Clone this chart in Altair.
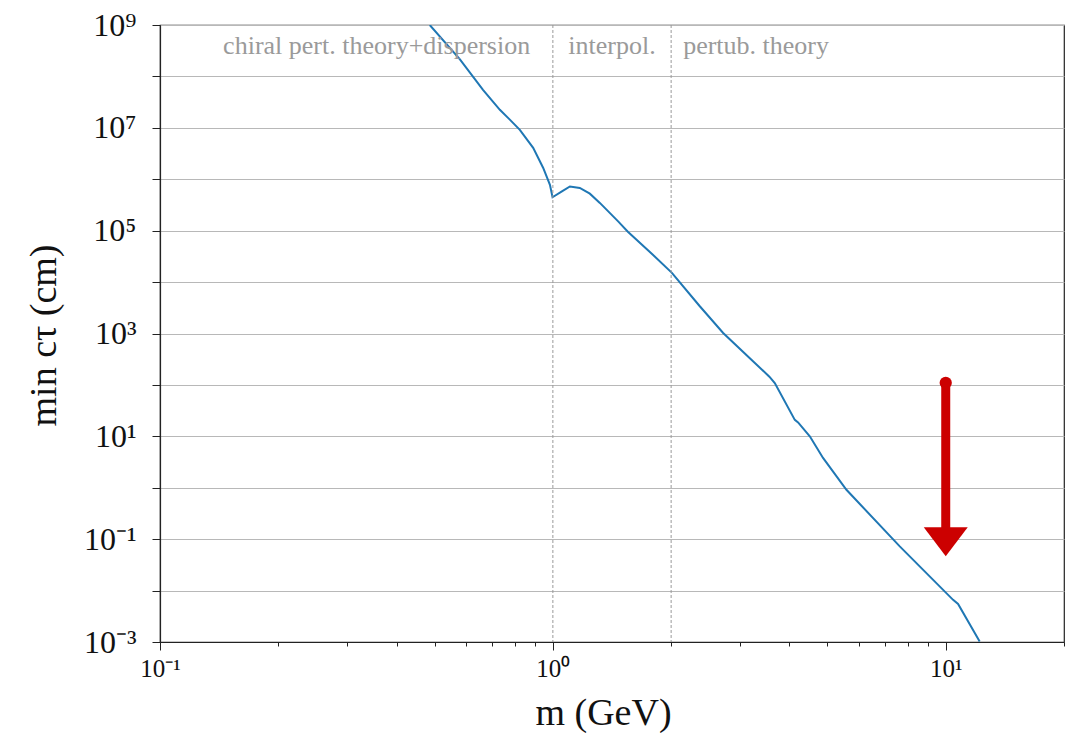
import altair as alt
import pandas as pd

# Minimum proper decay length versus mass
mass_gev = [0.486, 0.580, 0.664, 0.733, 0.777, 0.824, 0.891, 0.945, 0.983, 0.998,
            1.052, 1.105, 1.171, 1.242, 1.317, 1.466, 1.552, 1.797, 2.009,
            2.366, 2.713, 3.172, 3.557, 3.672, 4.129, 4.209, 4.508, 4.872,
            5.588, 7.638, 10.44, 10.75, 12.2]
log10_ctau = [9.00, 8.33, 7.74, 7.35, 7.16, 6.96, 6.61, 6.22, 5.89, 5.65,
              5.76, 5.86, 5.83, 5.72, 5.54, 5.18, 4.98, 4.53, 4.18,
              3.53, 3.01, 2.52, 2.16, 2.035, 1.32, 1.27, 1.00, 0.58,
              -0.04, -1.14, -2.18, -2.26, -2.99]
ctau_cm = [10 ** v for v in log10_ctau]

# Boundaries between the calculation regimes
regime_edges = [1.0, 2.0]
regime_names = ["chiral pert. theory+dispersion", "interpol.", "pertub. theory"]
regime_label_m = [0.356, 1.414, 3.29]
regime_label_ctau = [10 ** 8.6] * 3

# Downward arrow near m = 10 GeV
arrow_m = [10.0]
arrow_top = [110.0]
arrow_base = [0.17]
arrow_head = [0.089]

# Axis ticks
x_ticks = [0.1, 0.2, 0.3, 0.4, 0.5, 0.6, 0.7, 0.8, 0.9,
           1, 2, 3, 4, 5, 6, 7, 8, 9, 10, 20]
x_tick_labels = {-1: "10⁻¹", 0: "10⁰", 1: "10¹"}
y_ticks = [10.0 ** e for e in range(-3, 10)]
y_tick_labels = {-3: "10⁻³", -1: "10⁻¹", 1: "10¹", 3: "10³",
                 5: "10⁵", 7: "10⁷", 9: "10⁹"}

SERIF = "Liberation Serif"
LOG = "(log(datum.value) / LN10)"
EXP = f"round{LOG}"
IS_DECADE = f"abs({LOG} - {EXP}) < 1e-6"


def label_expr(labels):
    expr = "''"
    for e, text in sorted(labels.items(), reverse=True):
        expr = f"({EXP} == {e} ? '{text}' : {expr})"
    return f"({IS_DECADE}) ? {expr} : ''"


curve = pd.DataFrame({"m": mass_gev, "ctau": ctau_cm})
edges = pd.DataFrame({"m": regime_edges})
labels = pd.DataFrame({"m": regime_label_m, "ctau": regime_label_ctau,
                       "name": regime_names})
arrow = pd.DataFrame({"m": arrow_m, "top": arrow_top, "base": arrow_base,
                      "head": arrow_head})

x_scale = alt.Scale(type="log", domain=[0.1, 20], nice=False)
y_scale = alt.Scale(type="log", domain=[1e-3, 1e9], nice=False)

x_axis = alt.Axis(
    values=x_ticks,
    labelExpr=label_expr(x_tick_labels),
    tickSize={"condition": {"test": IS_DECADE, "value": 8}, "value": 4},
    grid=False,
    title="m (GeV)",
    titleFont=SERIF, titleFontSize=38, titleFontWeight="normal",
    titleColor="#111", titleY=71, titleBaseline="middle", titleX=443,
    labelFont=SERIF, labelFontSize=25, labelColor="#111", labelPadding=6,
    labelFlush=False, labelOverlap=False,
    domainColor="#222", tickColor="#222", domainWidth=1.2, tickWidth=1,
)
y_axis = alt.Axis(
    values=y_ticks,
    labelExpr=label_expr(y_tick_labels),
    tickSize=8,
    grid=True, gridColor="#b8b8b8", gridWidth=1,
    title="min cτ (cm)",
    titleFont=SERIF, titleFontSize=38, titleFontWeight="normal",
    titleColor="#111", titleX=-116, titleY=310, titleAlign="center",
    titleBaseline="middle", titleAngle=-90,
    labelFont=SERIF, labelFontSize=32, labelColor="#111", labelPadding=16,
    labelFlush=False, labelOverlap=False, labelBaseline="middle",
    domainColor="#222", tickColor="#222", domainWidth=1.2, tickWidth=1,
)

line = alt.Chart(curve).mark_line(color="#1f77b4", strokeWidth=2, clip=True).encode(
    x=alt.X("m:Q", scale=x_scale, axis=x_axis),
    y=alt.Y("ctau:Q", scale=y_scale, axis=y_axis),
)

dividers = alt.Chart(edges).mark_rule(color="#999999", strokeWidth=1,
                                      strokeDash=[3, 2]).encode(
    x=alt.X("m:Q", scale=x_scale),
)

regime_text = alt.Chart(labels).mark_text(
    font=SERIF, fontSize=26, color="#9a9a9a", align="center", baseline="middle"
).encode(
    x=alt.X("m:Q", scale=x_scale),
    y=alt.Y("ctau:Q", scale=y_scale),
    text="name:N",
)

shaft = alt.Chart(arrow).mark_rule(color="#cc0000", strokeWidth=9,
                                   strokeCap="round").encode(
    x=alt.X("m:Q", scale=x_scale),
    y=alt.Y("top:Q", scale=y_scale),
    y2="base:Q",
)
knob = alt.Chart(arrow).mark_circle(color="#cc0000", size=150, opacity=1).encode(
    x=alt.X("m:Q", scale=x_scale),
    y=alt.Y("top:Q", scale=y_scale),
)
head = alt.Chart(arrow).mark_point(
    shape="M-1,-0.66L1,-0.66L0,0.66Z", filled=True, color="#cc0000",
    size=1936, opacity=1, strokeWidth=0,
).encode(
    x=alt.X("m:Q", scale=x_scale),
    y=alt.Y("head:Q", scale=y_scale),
)

chart = alt.layer(line, dividers, regime_text, shaft, knob, head).properties(
    width=904, height=617,
    autosize="none",
    padding={"left": 160, "top": 25, "right": 11, "bottom": 91},
    background="white",
).configure_view(stroke="#222", strokeWidth=1.2)

chart.save("out.html", embed_options={"renderer": "svg", "actions": False})
